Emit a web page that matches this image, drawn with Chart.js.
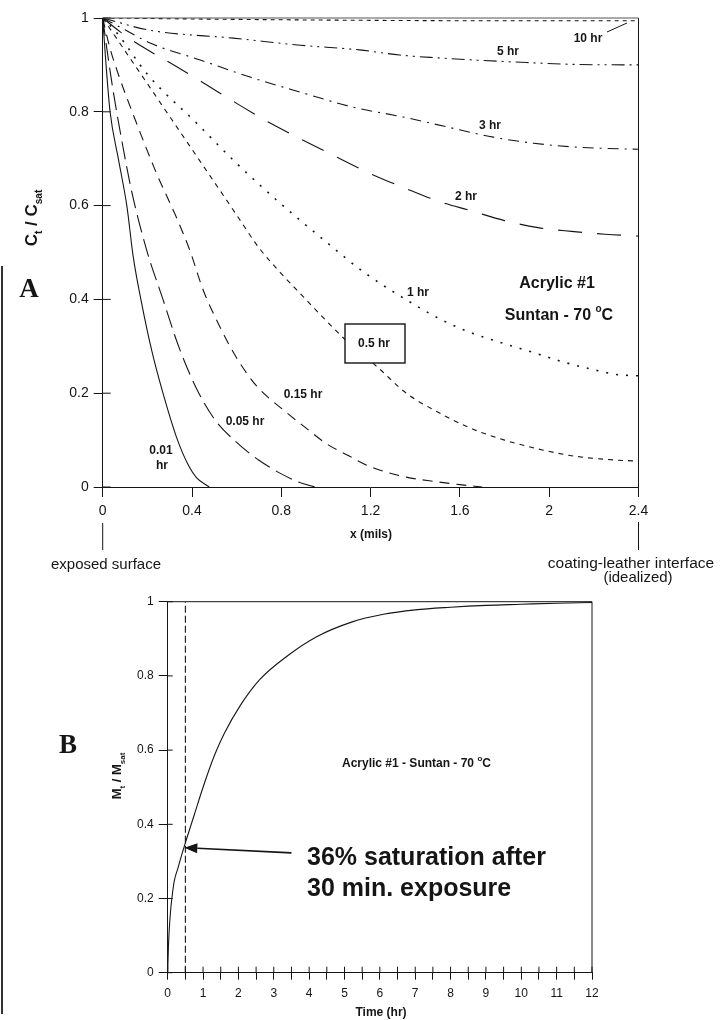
<!DOCTYPE html>
<html>
<head>
<meta charset="utf-8">
<script src="https://cdn.jsdelivr.net/npm/chart.js@4.4.1/dist/chart.umd.min.js"></script>
<style>
  html, body { margin: 0; padding: 0; background: #fff; }
  body { width: 720px; height: 1020px; position: relative; overflow: hidden; }
  .wrap { position: absolute; left: 0; width: 720px; }
  #wrapA { top: 0; height: 600px; }
  #wrapB { top: 560px; height: 460px; }
  #scanEdge { position: absolute; left: 1px; top: 266px; width: 2px; height: 748px; background: #333; }
</style>
</head>
<body>
<div id="wrapB" class="wrap"><canvas id="chartB" width="720" height="460"></canvas></div>
<div id="wrapA" class="wrap"><canvas id="chartA" width="720" height="600"></canvas></div>
<div id="scanEdge"></div>
<script>
/* ================= DATA: A - concentration profiles (x in mils, Ct/Csat) ================= */
const x001 = [0, 0.015, 0.033, 0.07, 0.108, 0.137, 0.171, 0.22, 0.27, 0.33, 0.38, 0.42, 0.477];
const c001 = [1, 0.9, 0.8, 0.7, 0.6, 0.49, 0.4, 0.29, 0.2, 0.107, 0.05, 0.02, 0];

const x005 = [0, 0.02, 0.045, 0.085, 0.13, 0.197, 0.27, 0.34, 0.42, 0.5, 0.6, 0.7, 0.8, 0.88, 0.95];
const c005 = [1, 0.93, 0.85, 0.74, 0.63, 0.505, 0.4, 0.3, 0.21, 0.145, 0.095, 0.057, 0.028, 0.01, 0];

const x015 = [0, 0.03, 0.07, 0.14, 0.24, 0.33, 0.39, 0.45, 0.51, 0.57, 0.62, 0.69, 0.82, 0.91, 1.0, 1.1, 1.2, 1.36, 1.5, 1.6, 1.7];
const c015 = [1, 0.94, 0.88, 0.79, 0.67, 0.575, 0.505, 0.42, 0.356, 0.3, 0.26, 0.215, 0.16, 0.126, 0.093, 0.067, 0.043, 0.021, 0.011, 0.005, 0];

const x05 = [0, 0.1, 0.2, 0.3, 0.4, 0.5, 0.6, 0.7, 0.8, 0.9, 1.0, 1.1, 1.23, 1.36, 1.5, 1.65, 1.8, 1.97, 2.11, 2.25, 2.4];
const c05 = [1, 0.93, 0.86, 0.79, 0.72, 0.65, 0.58, 0.51, 0.455, 0.405, 0.355, 0.308, 0.256, 0.2, 0.16, 0.125, 0.1, 0.079, 0.066, 0.059, 0.055];

const x1 = [0, 0.064, 0.2, 0.42, 0.6, 0.8, 0.99, 1.17, 1.385, 1.52, 1.655, 1.79, 1.92, 2.06, 2.2, 2.3, 2.4];
const c1 = [1, 0.968, 0.88, 0.776, 0.69, 0.603, 0.527, 0.458, 0.392, 0.356, 0.328, 0.307, 0.288, 0.267, 0.25, 0.24, 0.237];

const x2 = [0, 0.08, 0.18, 0.3, 0.45, 0.6, 0.75, 0.9, 1.05, 1.2, 1.35, 1.5, 1.65, 1.8, 1.95, 2.1, 2.25, 2.4];
const c2 = [1, 0.97, 0.938, 0.905, 0.862, 0.818, 0.776, 0.739, 0.703, 0.668, 0.638, 0.61, 0.589, 0.568, 0.553, 0.545, 0.539, 0.535];

const x3 = [0, 0.1, 0.21, 0.44, 0.66, 0.885, 1.12, 1.345, 1.54, 1.75, 1.93, 2.11, 2.25, 2.4];
const c3 = [1, 0.975, 0.947, 0.91, 0.874, 0.842, 0.81, 0.789, 0.768, 0.746, 0.733, 0.725, 0.722, 0.72];

const x5 = [0, 0.21, 0.585, 0.885, 1.15, 1.33, 1.5, 1.68, 1.9, 2.12, 2.4];
const c5 = [1, 0.974, 0.957, 0.942, 0.932, 0.921, 0.915, 0.91, 0.905, 0.901, 0.9];

const x10 = [0, 0.6, 1.2, 1.8, 2.4];
const c10 = [1, 0.997, 0.995, 0.994, 0.994];

const profileNames = ["0.01 hr", "0.05 hr", "0.15 hr", "0.5 hr", "1 hr", "2 hr", "3 hr", "5 hr", "10 hr"];
const profileX = [x001, x005, x015, x05, x1, x2, x3, x5, x10];
const profileC = [c001, c005, c015, c05, c1, c2, c3, c5, c10];

/* ================= DATA: B - uptake vs time ================= */
const timeHr = [0, 0.02, 0.15, 0.3, 0.5, 0.75, 1.0, 1.34, 1.6, 2.05, 2.6, 3.4, 4.2, 5.2, 6.1, 7.0, 8.0, 9.0, 10, 11, 12];
const uptake = [0, 0.07, 0.225, 0.285, 0.35, 0.425, 0.5, 0.59, 0.645, 0.72, 0.79, 0.855, 0.905, 0.945, 0.966, 0.978, 0.985, 0.99, 0.993, 0.996, 0.998];
const halfHour = 0.5;
const arrowTail = { x: 3.5, y: 0.323 };
const arrowTip = { x: 0.47, y: 0.337 };

/* ================= STYLE ================= */
const FONT = '"Liberation Sans", Arial, Helvetica, sans-serif';
const SERIF = '"Liberation Serif", "Times New Roman", serif';
const INK = "#151515";
const dashA = [[], [18, 7], [10, 7], [5, 5], [2, 8], [24, 15], [11, 6, 2, 6], [13, 5, 2, 5, 2, 5], [4, 4]];
const widthA = [1.1, 1.1, 1.1, 1.1, 1.6, 1.1, 1.1, 1.1, 1.1];

const pts = (xs, ys) => xs.map((x, i) => ({ x, y: ys[i] }));
const fmt = v => String(Math.round(v * 100) / 100);

function line(ctx, x1, y1, x2, y2) {
  ctx.beginPath();
  ctx.moveTo(x1, y1);
  ctx.lineTo(x2, y2);
  ctx.stroke();
}

function text(ctx, s, x, y, font, align, base) {
  ctx.font = font;
  ctx.textAlign = align || "center";
  ctx.textBaseline = base || "middle";
  ctx.fillText(s, x, y);
}

// parts: [text, font, dy]
function rich(ctx, parts, x, y, align) {
  let w = 0;
  parts.forEach(p => { ctx.font = p[1]; w += ctx.measureText(p[0]).width; });
  let cx = align === "center" ? x - w / 2 : x;
  ctx.textAlign = "left";
  ctx.textBaseline = "alphabetic";
  parts.forEach(p => {
    ctx.font = p[1];
    ctx.fillText(p[0], cx, y + (p[2] || 0));
    cx += ctx.measureText(p[0]).width;
  });
}

// rotated axis title with subscripts, baseline at x=bx, centred on cy
function rotTitle(ctx, parts, bx, cy, size, subSize) {
  ctx.save();
  ctx.translate(bx, cy);
  ctx.rotate(-Math.PI / 2);
  const big = `bold ${size}px ${FONT}`, small = `bold ${subSize}px ${FONT}`;
  let w = 0;
  parts.forEach(p => { ctx.font = p[1] ? small : big; w += ctx.measureText(p[0]).width; });
  let x = -w / 2;
  ctx.textAlign = "left";
  ctx.textBaseline = "alphabetic";
  parts.forEach(p => {
    ctx.font = p[1] ? small : big;
    ctx.fillText(p[0], x, p[1] ? size * 0.32 : 0);
    x += ctx.measureText(p[0]).width;
  });
  ctx.restore();
}

function innerTicks(ctx, chart, xIn, yIn) {
  const a = chart.chartArea, sx = chart.scales.x, sy = chart.scales.y;
  sx.ticks.forEach(t => {
    const px = sx.getPixelForValue(t.value);
    line(ctx, px, a.bottom, px, a.bottom - xIn);
  });
  sy.ticks.forEach(t => {
    const py = sy.getPixelForValue(t.value);
    line(ctx, a.left, py, a.left + yIn, py);
  });
}

/* ================= CHART A ================= */
const decorA = {
  id: "decorA",
  afterDraw(chart) {
    const ctx = chart.ctx, a = chart.chartArea, sx = chart.scales.x;
    ctx.save();
    ctx.strokeStyle = INK;
    ctx.fillStyle = INK;
    ctx.lineWidth = 1;
    line(ctx, a.right, a.top, a.right, a.bottom);
    ctx.strokeStyle = "#555";
    line(ctx, a.left, a.top, a.right, a.top);
    ctx.strokeStyle = INK;
    innerTicks(ctx, chart, 0, 8);

    // surface / interface markers
    const p0 = sx.getPixelForValue(0), p1 = sx.getPixelForValue(2.4);
    line(ctx, p0, 523, p0, 550);
    line(ctx, p1, 522, p1, 550);

    // curve labels
    const lf = `bold 12px ${FONT}`;
    text(ctx, "10 hr", 588, 39, lf);
    line(ctx, 607, 32, 627, 23);
    text(ctx, "5 hr", 508, 52, lf);
    text(ctx, "3 hr", 490, 126, lf);
    text(ctx, "2 hr", 466, 197, lf);
    text(ctx, "1 hr", 418, 293, lf);
    text(ctx, "0.15 hr", 303, 395, lf);
    text(ctx, "0.05 hr", 245, 422, lf);
    text(ctx, "0.01", 161, 451, lf);
    text(ctx, "hr", 162, 466, lf);

    // boxed 0.5 hr
    ctx.fillStyle = "#fff";
    ctx.fillRect(345, 324, 60, 39);
    ctx.lineWidth = 1.4;
    ctx.strokeRect(345, 324, 60, 39);
    ctx.fillStyle = INK;
    text(ctx, "0.5 hr", 374, 344, lf);

    // annotation
    rich(ctx, [["Acrylic #1", `bold 16px ${FONT}`]], 557, 288, "center");
    rich(ctx, [["Suntan - 70 ", `bold 16px ${FONT}`], ["o", `bold 10px ${FONT}`, -8], ["C", `bold 16px ${FONT}`]], 559, 320, "center");

    // panel letter & titles
    text(ctx, "A", 29, 297, `bold 27px ${SERIF}`, "center", "alphabetic");
    rotTitle(ctx, [["C", 0], ["t", 1], [" / C", 0], ["sat", 1]], 37, 218, 17, 10);
    text(ctx, "x (mils)", 371, 535, `bold 12px ${FONT}`);
    text(ctx, "exposed surface", 106, 569, `15px ${FONT}`, "center", "alphabetic");
    text(ctx, "coating-leather interface", 631, 568, `15.5px ${FONT}`, "center", "alphabetic");
    text(ctx, "(idealized)", 638, 582, `15px ${FONT}`, "center", "alphabetic");
    ctx.restore();
  }
};

new Chart(document.getElementById("chartA"), {
  type: "scatter",
  data: {
    datasets: profileNames.map((name, i) => ({
      label: name,
      data: pts(profileX[i], profileC[i]),
      showLine: true,
      borderColor: INK,
      borderWidth: widthA[i],
      borderDash: dashA[i],
      pointRadius: 0,
      cubicInterpolationMode: "monotone",
      fill: false
    }))
  },
  options: {
    responsive: false,
    animation: false,
    layout: { padding: { left: 0, top: 18, right: 81.5, bottom: 83 } },
    plugins: { legend: { display: false }, tooltip: { enabled: false } },
    scales: {
      x: {
        type: "linear", min: 0, max: 2.4,
        afterFit: s => { s.height = 30; },
        border: { display: true, color: INK, width: 1 },
        grid: { drawOnChartArea: false, drawTicks: true, tickLength: 10, color: INK },
        ticks: { stepSize: 0.4, autoSkip: false, maxRotation: 0, padding: 6, color: INK,
                 font: { family: FONT, size: 14 }, callback: v => fmt(v) }
      },
      y: {
        type: "linear", min: 0, max: 1,
        afterFit: s => { s.width = 102.7; },
        border: { display: true, color: INK, width: 1 },
        grid: { drawOnChartArea: false, drawTicks: true, tickLength: 9, color: INK },
        ticks: { stepSize: 0.2, autoSkip: false, padding: 5, color: INK,
                 font: { family: FONT, size: 14 }, callback: v => fmt(v) }
      }
    }
  },
  plugins: [decorA]
});

/* ================= CHART B ================= */
const decorB = {
  id: "decorB",
  afterDraw(chart) {
    const ctx = chart.ctx, a = chart.chartArea, sx = chart.scales.x, sy = chart.scales.y;
    ctx.save();
    ctx.strokeStyle = INK;
    ctx.fillStyle = INK;
    ctx.lineWidth = 1;
    line(ctx, a.right, a.top, a.right, a.bottom);
    line(ctx, a.left, a.top, a.right, a.top);
    innerTicks(ctx, chart, 6, 5);

    // arrow to the 30 min point
    const tx = sx.getPixelForValue(arrowTip.x), ty = sy.getPixelForValue(arrowTip.y);
    const fx = sx.getPixelForValue(arrowTail.x), fy = sy.getPixelForValue(arrowTail.y);
    const ang = Math.atan2(ty - fy, tx - fx), hl = 13, hw = 5;
    const bx = tx - hl * Math.cos(ang), by = ty - hl * Math.sin(ang);
    ctx.lineWidth = 1.6;
    line(ctx, fx, fy, bx, by);
    ctx.beginPath();
    ctx.moveTo(tx, ty);
    ctx.lineTo(bx + hw * Math.sin(ang), by - hw * Math.cos(ang));
    ctx.lineTo(bx - hw * Math.sin(ang), by + hw * Math.cos(ang));
    ctx.closePath();
    ctx.fill();

    // texts (page coordinates)
    ctx.translate(0, -560);
    text(ctx, "B", 68, 753, `bold 27px ${SERIF}`, "center", "alphabetic");
    rotTitle(ctx, [["M", 0], ["t", 1], [" / M", 0], ["sat", 1]], 121, 776, 13, 8);
    rich(ctx, [["Acrylic #1 - Suntan - 70 ", `bold 12px ${FONT}`], ["o", `bold 8px ${FONT}`, -6], ["C", `bold 12px ${FONT}`]], 342, 767, "left");
    text(ctx, "36% saturation after", 307, 865, `bold 25px ${FONT}`, "left", "alphabetic");
    text(ctx, "30 min. exposure", 307, 896, `bold 25px ${FONT}`, "left", "alphabetic");
    text(ctx, "Time (hr)", 381, 1013, `bold 12px ${FONT}`);
    ctx.restore();
  }
};

new Chart(document.getElementById("chartB"), {
  type: "scatter",
  data: {
    datasets: [
      {
        label: "Mt/Msat",
        data: pts(timeHr, uptake),
        showLine: true,
        borderColor: INK,
        borderWidth: 1.1,
        pointRadius: 0,
        cubicInterpolationMode: "monotone",
        fill: false
      },
      {
        label: "30 min",
        data: pts([halfHour, halfHour], [0, 1]),
        showLine: true,
        borderColor: INK,
        borderWidth: 1.1,
        borderDash: [7, 3],
        pointRadius: 0,
        fill: false
      }
    ]
  },
  options: {
    responsive: false,
    animation: false,
    layout: { padding: { left: 0, top: 41.7, right: 128, bottom: 17.3 } },
    plugins: { legend: { display: false }, tooltip: { enabled: false } },
    scales: {
      x: {
        type: "linear", min: 0, max: 12,
        afterFit: s => { s.height = 30; },
        border: { display: true, color: INK, width: 1 },
        grid: { drawOnChartArea: false, drawTicks: true, tickLength: 7, color: INK },
        ticks: { stepSize: 0.5, maxTicksLimit: 100, autoSkip: false, maxRotation: 0, padding: 7, color: INK,
                 font: { family: FONT, size: 12 }, callback: v => (Number.isInteger(v) ? String(v) : "") }
      },
      y: {
        type: "linear", min: 0, max: 1,
        afterFit: s => { s.width = 167.7; },
        border: { display: true, color: INK, width: 1 },
        grid: { drawOnChartArea: false, drawTicks: true, tickLength: 9, color: INK },
        ticks: { stepSize: 0.2, autoSkip: false, padding: 5, color: INK,
                 font: { family: FONT, size: 12 }, callback: v => fmt(v) }
      }
    }
  },
  plugins: [decorB]
});
</script>
</body>
</html>
